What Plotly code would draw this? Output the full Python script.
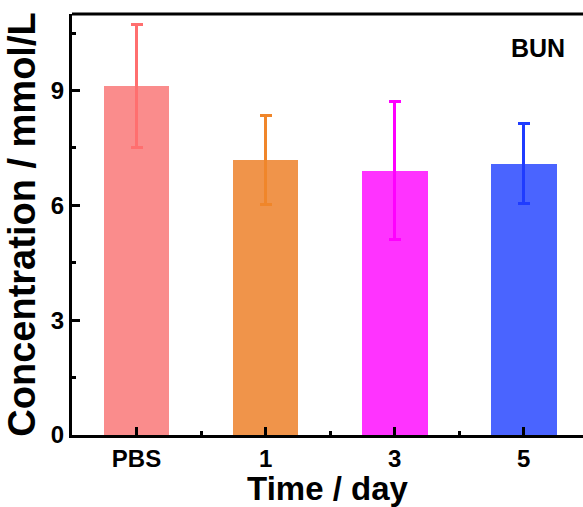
import plotly.graph_objects as go

# BUN concentration by time point
categories = ["PBS", "1", "3", "5"]
values = [9.12, 7.19, 6.91, 7.09]
errors = [1.61, 1.16, 1.80, 1.04]
bar_colors = ["#fa8c8c", "#f0944a", "#ff33ff", "#4a64ff"]
err_colors = ["#ff6f6f", "#f0862a", "#ff00ff", "#1f3cff"]
y_ticks = [0, 3, 6, 9]

FONT = "Liberation Sans, Arial, sans-serif"

fig = go.Figure()
positions = list(range(len(categories)))
for x, v, e, bc, ec in zip(positions, values, errors, bar_colors, err_colors):
    fig.add_trace(go.Bar(
        x=[x], y=[v], width=0.51,
        marker=dict(color=bc, line=dict(width=0)),
        error_y=dict(type="data", array=[e], visible=True,
                     color=ec, thickness=3, width=6),
        showlegend=False,
    ))

fig.update_layout(
    width=583, height=507,
    margin=dict(l=72, r=0, t=14, b=72),
    plot_bgcolor="white", paper_bgcolor="white",
    font=dict(family=FONT, color="black"),
    bargap=0,
)

fig.update_xaxes(
    range=[-0.5, 3.46],
    tickmode="array", tickvals=positions,
    ticktext=[f"<b>{c}</b>" for c in categories],
    ticks="inside", ticklen=8, tickwidth=2.5, tickcolor="black",
    minor=dict(tickmode="array", tickvals=[0.5, 1.5, 2.5, 3.5],
               ticks="inside", ticklen=4, tickwidth=2.5, tickcolor="black"),
    showline=True, linewidth=3, linecolor="black",
    showgrid=False, zeroline=False,
    tickfont=dict(size=24, family=FONT, color="black"),
    title=dict(text="<b>Time / day</b>", font=dict(size=33, family=FONT), standoff=4),
)

fig.update_yaxes(
    range=[0, 11],
    tickmode="array", tickvals=y_ticks,
    ticktext=[f"<b>{t}</b>" for t in y_ticks],
    ticks="inside", ticklen=8, tickwidth=2.5, tickcolor="black",
    minor=dict(tickmode="array", tickvals=[1.5, 4.5, 7.5, 10.5],
               ticks="inside", ticklen=4, tickwidth=2.5, tickcolor="black"),
    showline=True, linewidth=3, linecolor="black",
    showgrid=False, zeroline=False,
    tickfont=dict(size=24, family=FONT, color="black"),
    title=dict(text="<b>Concentration / mmol/L</b>", font=dict(size=38, family=FONT), standoff=4),
)

# top frame line
fig.add_shape(type="line", xref="paper", yref="paper", x0=0, x1=1, y0=1, y1=1,
              line=dict(color="black", width=3))

fig.add_annotation(
    text="<b>BUN</b>", xref="paper", yref="paper", x=0.968, y=0.92,
    xanchor="right", yanchor="middle", showarrow=False,
    font=dict(size=25, family=FONT, color="black"),
)

fig.write_html("out.html")
